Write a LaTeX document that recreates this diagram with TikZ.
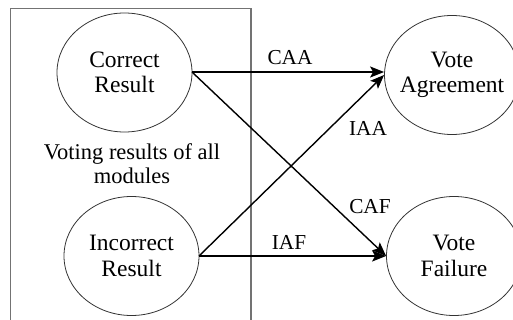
\documentclass[tikz,border=0pt]{standalone}
\usepackage{fontspec}
\setmainfont{Liberation Serif}
\usetikzlibrary{shapes.geometric,arrows.meta}
\begin{document}
\begin{tikzpicture}[x=1pt,y=-1pt,
  st/.style={ellipse,draw=black!80,line width=0.8pt,minimum width=135pt,minimum height=119pt,inner sep=0pt},
  txt/.style={align=center,inner sep=0pt,font=\fontsize{23.5}{25.5}\selectfont},
  lbl/.style={font=\fontsize{21.3}{25}\selectfont,inner sep=0pt},
  arr/.style={line width=1.4pt,-{Stealth[length=14pt,width=11pt,inset=3pt]}}]
\useasboundingbox (0,0) rectangle (513,320);
\clip (0,0) rectangle (513,320);
\draw[black!55,line width=1.5pt] (10.5,8.5) rectangle (251,340);
\node[st] (cr) at (124.5,72.5) {};
\node[st] (ir) at (131.5,256) {};
\node[st] (va) at (452,75) {};
\node[st] (vf) at (454,256) {};
\node[txt] (crt) at (cr) {Correct\\Result};
\node[txt] (irt) at (ir) {Incorrect\\Result};
\node[txt] (vat) at (va) {Vote\\Agreement};
\node[txt] (vft) at (vf) {Vote\\Failure};
\node[txt,font=\fontsize{22.5}{24}\selectfont] (vt) at (132,164) {Voting results of all\\modules};
\coordinate (crE) at (192,72);
\coordinate (irE) at (199,256);
\draw[arr] (crE) -- (va.west |- crE);
\draw[arr] (irE) -- (va.west);
\draw[arr] (crE) -- (vf.west);
\draw[arr] (irE) -- (vf.west);
\node[lbl] (caa) at (290,58) {CAA};
\node[lbl] (iaa) at (368,128) {IAA};
\node[lbl] (caf) at (370,207) {CAF};
\node[lbl] (iaf) at (289,242) {IAF};
\end{tikzpicture}
\end{document}
